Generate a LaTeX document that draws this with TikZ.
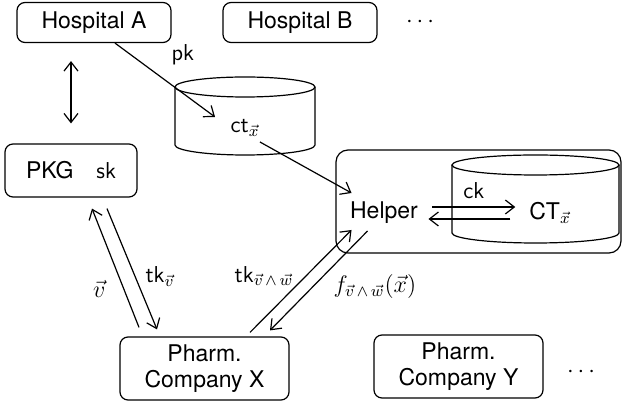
\documentclass[tikz,border=0pt]{standalone}
\usepackage{amsmath}
\usepackage{fontspec}
\setmainfont{TeX Gyre Heros}
\usepackage{tikz}
\usetikzlibrary{positioning,calc,arrows.meta}
\tikzset{
    partybox/.style={
        draw,
        rounded corners=4pt,
        align=center,
        inner sep=0pt
    },
    lbl/.style={inner sep=0pt},
    msg/.style={
        -{Straight Barb[length=4.5pt,width=7pt]}
    },
    dblmsg/.style={
        {Straight Barb[length=4.5pt,width=7pt]}-{Straight Barb[length=4.5pt,width=7pt]}
    }
}

\begin{document}
\begin{tikzpicture}[x=0.5pt, y=-0.5pt, line width=0.6pt, font=\fontsize{11.5}{13}\selectfont]
                \useasboundingbox (0,0) rectangle (622,405);
                % data owners
                \node[partybox, minimum width=77pt, minimum height=20pt] (HospA) at (94,22.5) {Hospital A};
                \node[partybox, minimum width=77pt, minimum height=20pt] (HospB) at (300,22.5) {Hospital B};
                \node[lbl] (moreHosp) at (422,22) {$\cdots$};
                \node[partybox, minimum width=66pt, minimum height=26.5pt] (PKG) at (71,170.5) {PKG\hspace{1em}\textsf{sk}};

                % encrypted store
                \draw (175,87) -- (175,145) arc[start angle=180, end angle=0, x radius=70, y radius=10] -- (315,87);
                \draw (245,87) ellipse[x radius=70, y radius=10];
                \node[lbl] (ct) at (245,128) {\textsf{ct}$_{\vec x}$};

                % helper with its own store
                \node[draw, rounded corners=6pt, minimum width=142.5pt, minimum height=51.5pt] (HelperBox) at (478.5,201.5) {};
                \draw (452,165) -- (452,233) arc[start angle=180, end angle=0, x radius=83.5, y radius=10] -- (619,165);
                \draw (535.5,165) ellipse[x radius=83.5, y radius=10];
                \node[lbl] (Helper) at (384,213) {Helper};
                \node[lbl] (CT) at (550,213) {CT$_{\vec x}$};

                % data users
                \node[partybox, minimum width=84.5pt, minimum height=31.5pt] (PharmX) at (204.5,368.5) {Pharm.\\Company X};
                \node[partybox, minimum width=84.5pt, minimum height=31.5pt] (PharmY) at (458.5,366.5) {Pharm.\\Company Y};
                \node[lbl] (morePharm) at (583,372) {$\cdots$};

                \draw[dblmsg] ($(PKG.north |- HospA.south)+(0,18)$) -- ($(PKG.north)+(0,-20)$);
                \draw[msg] ($(HospA.south)+(21,0)$) -- node[lbl, pos=0.5, above right=7pt and 3pt] {\textsf{pk}} ($(ct.west)+(-15,-11)$);
                \draw[msg] ($(ct.east)+(0,14)$) -- ($(Helper.west)+(2,-20)$);
                \draw[msg] ($(Helper.east)+(14,-6)$) -- node[lbl, above=4pt] {\textsf{ck}} ($(CT.west)+(-13.5,-6)$);
                \draw[msg] ($(CT.west)+(-18.5,6)$) -- ($(Helper.east)+(10,6)$);

                \draw[msg] ($(PharmX.north)+(-65.5,-9)$) -- node[lbl, pos=0.32, left=9pt] {$\vec v$} ($(PKG.south)+(21,11)$);
                \draw[msg] ($(PKG.south)+(36,11)$) -- node[lbl, pos=0.56, right=5pt] {\textsf{tk}$_{\vec v}$} ($(PharmX.north)+(-47.5,-7)$);
                \draw[msg] ($(PharmX.north)+(45.5,-4)$) -- node[lbl, pos=0.55, left=6pt] {\textsf{tk}$_{\vec v\,\wedge\,\vec w}$} ($(Helper.west)+(2,17)$);
                \draw[msg] ($(Helper.west)+(18,18)$) -- node[lbl, pos=0.56, right=10pt] {$f_{\vec v\,\wedge\,\vec w}(\vec x)$} ($(PharmX.north)+(65.5,-6)$);
            \end{tikzpicture}
\end{document}
